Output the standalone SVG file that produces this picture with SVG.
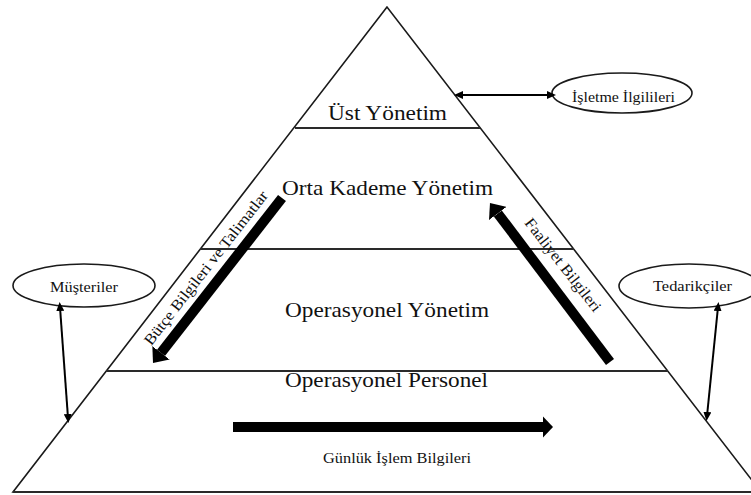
<svg xmlns="http://www.w3.org/2000/svg" width="751" height="495" viewBox="0 0 751 495">
<style>
.t{fill:#111;text-anchor:middle}
.edge{fill:none;stroke:#1a1a1a;stroke-width:1.6}
.lvl{stroke:#2a2a2a;stroke-width:2}
.thin{stroke:#000;stroke-width:2;fill:none;marker-start:url(#sh);marker-end:url(#sh)}
.fat{stroke:#000;stroke-width:10;fill:none}
.ell{fill:#fff;stroke:#1a1a1a;stroke-width:1.6}
</style>
<defs>
<marker id="sh" viewBox="0 -4 9 8" refX="1" refY="0" markerWidth="9" markerHeight="8" markerUnits="userSpaceOnUse" orient="auto-start-reverse"><path d="M0,-4 L9,0 L0,4 z" fill="#000"/></marker>
<marker id="bh" viewBox="0 -11 13 22" refX="0" refY="0" markerWidth="13" markerHeight="22" markerUnits="userSpaceOnUse" orient="auto"><path d="M0,-11 L13,0 L0,11 z" fill="#000"/></marker>
</defs>
<rect width="751" height="495" fill="#fff"/>
<g font-family="Liberation Serif, Times New Roman, serif">
<g id="pyramid">
<polygon class="edge" points="387,7 13,492 761,492"/>
<line class="lvl" x1="295" y1="128" x2="480" y2="128"/>
<line class="lvl" x1="200" y1="249" x2="574" y2="249"/>
<line class="lvl" x1="106" y1="371" x2="668" y2="371"/>
<line class="lvl" x1="13" y1="492" x2="751" y2="492"/>
</g>
<g id="ust-yonetim" font-size="22"><text class="t" x="387.5" y="120" textLength="119" lengthAdjust="spacingAndGlyphs">Üst Yönetim</text></g>
<g id="orta-kademe" font-size="22"><text class="t" x="387.5" y="195" textLength="211" lengthAdjust="spacingAndGlyphs">Orta Kademe Yönetim</text></g>
<g id="operasyonel-yonetim" font-size="22"><text class="t" x="387" y="317" textLength="204" lengthAdjust="spacingAndGlyphs">Operasyonel Yönetim</text></g>
<g id="operasyonel-personel" font-size="22"><text class="t" x="386.5" y="387" textLength="203" lengthAdjust="spacingAndGlyphs">Operasyonel Personel</text></g>
<g id="isletme-ilgilileri" font-size="15.5">
<ellipse class="ell" cx="622" cy="93" rx="70" ry="20"/>
<text class="t" x="623.5" y="102" textLength="103" lengthAdjust="spacingAndGlyphs">İşletme İlgilileri</text>
</g>
<g id="musteriler" font-size="15.5">
<ellipse class="ell" cx="84" cy="285.5" rx="71" ry="21.5"/>
<text class="t" x="84" y="292" textLength="68" lengthAdjust="spacingAndGlyphs">Müşteriler</text>
</g>
<g id="tedarikciler" font-size="15.5">
<ellipse class="ell" cx="689" cy="286" rx="70" ry="22"/>
<text class="t" x="692.5" y="291" textLength="79" lengthAdjust="spacingAndGlyphs">Tedarikçiler</text>
</g>
<g id="connectors" font-size="15.5">
<line class="thin" x1="462" y1="95" x2="548" y2="95"/>
<line class="thin" x1="60.2" y1="310" x2="67.8" y2="415"/>
<line class="thin" x1="717.7" y1="310" x2="707.3" y2="413"/>
<line class="fat" x1="282" y1="198" x2="161" y2="352.8" marker-end="url(#bh)"/>
<line class="fat" x1="610" y1="362" x2="497.8" y2="213.4" marker-end="url(#bh)"/>
<line class="fat" x1="233" y1="427" x2="544" y2="427"/>
<path d="M543,416.5 L553,427 L543,437.5 z" fill="#000"/>
<text class="t" transform="translate(210,271) rotate(-52)" x="0" y="0" textLength="191" lengthAdjust="spacingAndGlyphs">Bütçe Bilgileri ve Talimatlar</text>
<text class="t" transform="translate(559,268) rotate(52)" x="0" y="0" textLength="114" lengthAdjust="spacingAndGlyphs">Faaliyet Bilgileri</text>
<text class="t" x="397" y="463" textLength="148" lengthAdjust="spacingAndGlyphs">Günlük İşlem Bilgileri</text>
</g>
</g>
</svg>
